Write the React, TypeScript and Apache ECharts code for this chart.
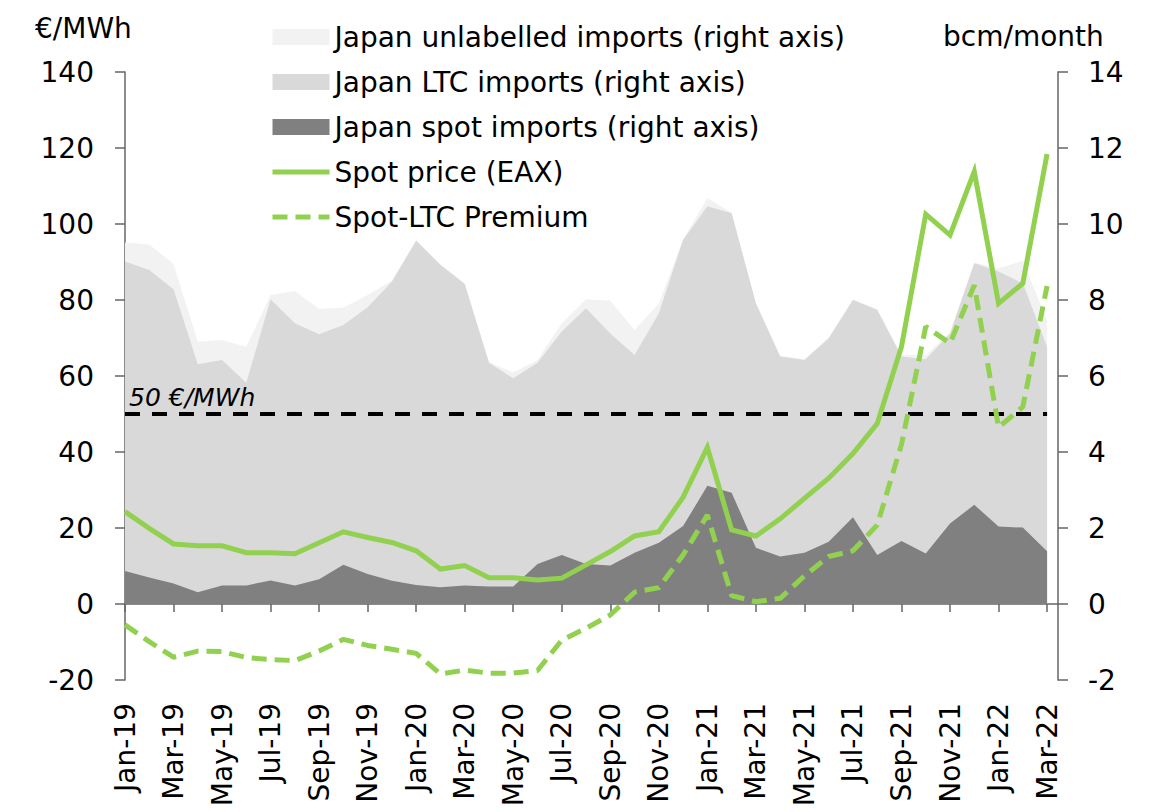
import { useEffect, useRef } from 'react';
import * as echarts from 'echarts';

const months = [
  'Jan-19', 'Feb-19', 'Mar-19', 'Apr-19', 'May-19', 'Jun-19', 'Jul-19', 'Aug-19', 'Sep-19', 'Oct-19', 'Nov-19', 'Dec-19',
  'Jan-20', 'Feb-20', 'Mar-20', 'Apr-20', 'May-20', 'Jun-20', 'Jul-20', 'Aug-20', 'Sep-20', 'Oct-20', 'Nov-20', 'Dec-20',
  'Jan-21', 'Feb-21', 'Mar-21', 'Apr-21', 'May-21', 'Jun-21', 'Jul-21', 'Aug-21', 'Sep-21', 'Oct-21', 'Nov-21', 'Dec-21',
  'Jan-22', 'Feb-22', 'Mar-22',
];

const labelPositions = [0, 2, 4, 6, 8, 10, 12, 14, 16, 18, 20, 22, 24, 26, 28, 30, 32, 34, 36, 38];

// EUR/MWh (left axis)
const spotPrice = [
  24.3, 19.9, 15.8, 15.3, 15.3, 13.5, 13.5, 13.2, 16.1, 19.0, 17.5, 16.2,
  14.0, 9.2, 10.1, 6.9, 6.9, 6.3, 6.8, 10.3, 13.8, 17.9, 19.0, 28.1,
  41.2, 19.5, 17.9, 22.4, 27.8, 33.1, 39.6, 47.5, 67.7, 102.6, 97.1, 113.8,
  79.1, 84.4, 118.4,
];
const spotLtcPremium = [
  -5.5, -9.9, -14.0, -12.4, -12.5, -14.1, -14.6, -14.9, -12.4, -9.3, -10.9, -11.9,
  -13.0, -18.4, -17.4, -18.2, -18.2, -17.5, -9.5, -6.4, -2.9, 3.1, 4.3, 12.9,
  23.4, 2.2, 0.6, 1.5, 7.4, 12.5, 14.0, 20.8, 42.0, 73.0, 68.6, 83.9,
  46.5, 51.9, 83.7,
];

// bcm/month (right axis), layers stacked bottom to top
const spotImports = [
  0.87, 0.70, 0.54, 0.31, 0.49, 0.49, 0.62, 0.49, 0.65, 1.03, 0.79, 0.61,
  0.50, 0.44, 0.49, 0.46, 0.46, 1.05, 1.29, 1.05, 1.01, 1.35, 1.61, 2.05,
  3.11, 2.93, 1.48, 1.25, 1.35, 1.64, 2.28, 1.29, 1.66, 1.33, 2.12, 2.61,
  2.04, 2.01, 1.39,
];
const ltcImports = [
  8.14, 8.09, 7.74, 6.00, 5.93, 5.33, 7.40, 6.90, 6.45, 6.31, 7.02, 7.87,
  9.06, 8.48, 7.93, 5.89, 5.48, 5.30, 5.88, 6.73, 6.11, 5.20, 6.04, 7.53,
  7.36, 7.35, 6.43, 5.26, 5.07, 5.35, 5.72, 6.45, 4.85, 5.11, 5.00, 6.36,
  6.71, 6.43, 5.38,
];
const unlabelledImports = [
  0.50, 0.67, 0.67, 0.59, 0.53, 0.95, 0.11, 0.85, 0.66, 0.46, 0.32, 0.03,
  0.02, 0.02, 0.02, 0.02, 0.15, 0.07, 0.22, 0.24, 0.86, 0.66, 0.26, 0.02,
  0.21, 0.02, 0.02, 0.02, 0.02, 0.02, 0.02, 0.02, 0.04, 0.11, 0.03, 0.02,
  0.08, 0.59, 0.70,
];

const thresholdValue = 50;
const thresholdLabel = '50 €/MWh';

const FONT = 'DejaVu Sans';
const GREEN = '#92D050';
const AXIS = '#666666';

const pairs = (arr: number[]) => arr.map((v, i) => [i, v]);

export default function App() {
  const ref = useRef<HTMLDivElement>(null);

  useEffect(() => {
    if (!ref.current) return;
    const chart = echarts.init(ref.current, null, { renderer: 'svg' });
    const xMax = months.length - 1 + 0.45;

    // stacked tops (the value x-axis cannot use ECharts' stack, so layers are accumulated here)
    const ltcTop = spotImports.map((v, i) => +(v + ltcImports[i]).toFixed(3));
    const unlabelledTop = ltcTop.map((v, i) => +(v + unlabelledImports[i]).toFixed(3));

    const areaSeries = (name: string, data: number[], color: string, z: number) => ({
      name,
      type: 'line',
      xAxisIndex: 0,
      yAxisIndex: 1,
      data: pairs(data),
      symbol: 'none',
      showSymbol: false,
      lineStyle: { width: 0, color },
      itemStyle: { color },
      areaStyle: { color, opacity: 1, origin: 0 },
      z,
    });

    const lineLegendStyle = { width: 5, color: GREEN };
    const hiddenSymbol = { opacity: 0, color: 'rgba(0,0,0,0)', borderWidth: 0 };

    chart.setOption({
      animation: false,
      backgroundColor: '#ffffff',
      textStyle: { fontFamily: FONT },
      grid: { left: 125, right: 100, top: 72, bottom: 132, outerBoundsMode: 'none' },
      legend: {
        orient: 'vertical',
        left: 265,
        top: 18,
        itemWidth: 57,
        itemHeight: 16,
        itemGap: 17,
        selectedMode: false,
        textStyle: { fontFamily: FONT, fontSize: 28, color: '#000' },
        data: [
          { name: 'Japan unlabelled imports (right axis)', icon: 'rect' },
          { name: 'Japan LTC imports (right axis)', icon: 'rect' },
          { name: 'Japan spot imports (right axis)', icon: 'rect' },
          { name: 'Spot price (EAX)', itemStyle: hiddenSymbol, lineStyle: { ...lineLegendStyle, type: 'solid' } },
          { name: 'Spot-LTC Premium', itemStyle: hiddenSymbol, lineStyle: { ...lineLegendStyle, type: [15, 8] } },
        ],
      },
      xAxis: [
        {
          type: 'value',
          min: 0,
          max: xMax,
          interval: 2,
          axisLine: { show: true, onZero: true, onZeroAxisIndex: 0, lineStyle: { color: AXIS, width: 1.5 } },
          axisTick: { show: true, length: 8, inside: false, customValues: labelPositions, lineStyle: { color: AXIS, width: 1.5 } },
          axisLabel: { show: false },
          splitLine: { show: false },
        },
        {
          type: 'value',
          min: 0,
          max: xMax,
          interval: 2,
          position: 'bottom',
          axisLine: { show: false, onZero: false },
          axisTick: { show: false },
          splitLine: { show: false },
          axisLabel: {
            show: true,
            rotate: 90,
            margin: 23,
            fontFamily: FONT,
            fontSize: 28,
            color: '#000',
            customValues: labelPositions,
            formatter: (v: number) => (Number.isInteger(v) && months[v] ? months[v] : ''),
          },
        },
      ],
      yAxis: [
        {
          type: 'value',
          min: -20,
          max: 140,
          interval: 20,
          axisLine: { show: true, onZero: false, lineStyle: { color: AXIS, width: 1.5 } },
          axisTick: { show: true, length: 10, inside: false, lineStyle: { color: AXIS, width: 1.5 } },
          axisLabel: { margin: 31, fontFamily: FONT, fontSize: 28, color: '#000' },
          splitLine: { show: false },
        },
        {
          type: 'value',
          min: -2,
          max: 14,
          interval: 2,
          position: 'right',
          axisLine: { show: true, onZero: false, lineStyle: { color: AXIS, width: 1.5 } },
          axisTick: { show: true, length: 10, inside: false, lineStyle: { color: AXIS, width: 1.5 } },
          axisLabel: { margin: 30, fontFamily: FONT, fontSize: 28, color: '#000' },
          splitLine: { show: false },
        },
      ],
      series: [
        areaSeries('Japan unlabelled imports (right axis)', unlabelledTop, '#f2f2f2', 1),
        areaSeries('Japan LTC imports (right axis)', ltcTop, '#d9d9d9', 2),
        areaSeries('Japan spot imports (right axis)', spotImports, '#808080', 3),
        {
          name: 'Spot price (EAX)',
          type: 'line',
          xAxisIndex: 0,
          yAxisIndex: 0,
          data: pairs(spotPrice),
          symbol: 'none',
          showSymbol: false,
          itemStyle: { color: GREEN },
          lineStyle: { color: GREEN, width: 5, join: 'miter' },
          z: 5,
          markLine: {
            silent: true,
            symbol: ['none', 'none'],
            lineStyle: { color: '#000', width: 4, type: [15, 12] },
            label: {
              show: true,
              position: 'insideStartTop',
              formatter: thresholdLabel,
              fontFamily: FONT,
              fontStyle: 'italic',
              fontSize: 25,
              color: '#000',
              distance: 4,
            },
            data: [[{ coord: [0, thresholdValue] }, { coord: [months.length - 1, thresholdValue] }]],
          },
        },
        {
          name: 'Spot-LTC Premium',
          type: 'line',
          xAxisIndex: 0,
          yAxisIndex: 0,
          data: pairs(spotLtcPremium),
          symbol: 'none',
          showSymbol: false,
          itemStyle: { color: GREEN },
          lineStyle: { color: GREEN, width: 5, type: [15, 8] },
          z: 5,
        },
      ],
      graphic: [
        { type: 'text', left: 35, top: 14, style: { text: '€/MWh', fontFamily: FONT, fontSize: 28, fill: '#000' } },
        { type: 'text', left: 943, top: 22, style: { text: 'bcm/month', fontFamily: FONT, fontSize: 28, fill: '#000' } },
      ],
    });

    return () => chart.dispose();
  }, []);

  return (
    <div
      ref={ref}
      style={{ position: 'fixed', left: 0, top: 0, width: 1158, height: 812, background: '#fff' }}
    />
  );
}
